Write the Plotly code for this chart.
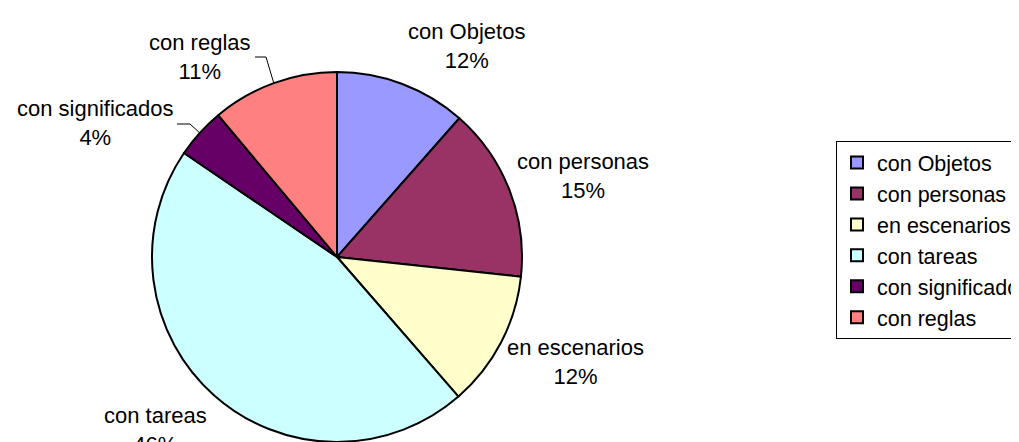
import math
import plotly.graph_objects as go

categories = ["con Objetos", "con personas", "en escenarios", "con tareas", "con significados", "con reglas"]
values = [11.5, 15.2, 11.9, 45.9, 4.4, 11.1]
colors = ["#9999FF", "#993366", "#FFFFCC", "#CCFFFF", "#660066", "#FF8080"]

# layout: figure size, pie geometry (pixels from top-left)
W, H = 1019, 442
cx, cy, r = 329, 249, 185
FONT = "Liberation Sans, Arial, sans-serif"

# label text centres (pixels, first-line/second-line midpoint) and leader flags
label_pos = [(458, 38), (575, 168), (567, 354), (147, 422), (87, 115), (192, 49)]
leader = [False, False, False, False, True, True]
leader_start = {4: (169, 116), 5: (247, 49)}   # start of the small elbow line, next to the text

fig = go.Figure(go.Pie(
    labels=categories,
    values=values,
    sort=False,
    direction="clockwise",
    rotation=0,
    marker=dict(colors=colors, line=dict(color="black", width=2)),
    textinfo="none",
    domain=dict(x=[(cx - r) / W, (cx + r) / W], y=[(H - cy - r) / H, (H - cy + r) / H]),
    hoverinfo="label+percent",
))

total = sum(values)
cum = 0.0
annotations = []
shapes = []
for i, (lab, v) in enumerate(zip(categories, values)):
    mid = (cum + v / 2) / total * 2 * math.pi
    cum += v
    px, py = label_pos[i]
    annotations.append(dict(
        x=px / W, y=1 - py / H, xref="paper", yref="paper",
        text=f"{lab}<br>{round(v / total * 100)}%",
        showarrow=False, xanchor="center", yanchor="middle",
        font=dict(family=FONT, size=22, color="black"),
    ))
    if leader[i]:
        ex, ey = cx + r * math.sin(mid), cy - r * math.cos(mid)
        sx, sy = leader_start[i]
        kx = sx + 11 if i == 5 else sx + 13
        path = f"M {sx/W},{1-sy/H} L {kx/W},{1-sy/H} L {ex/W},{1-ey/H}"
        shapes.append(dict(type="path", xref="paper", yref="paper", path=path,
                           line=dict(color="black", width=1)))

fig.update_layout(
    width=W, height=H,
    margin=dict(l=0, r=0, t=0, b=0, autoexpand=False),
    paper_bgcolor="white",
    plot_bgcolor="white",
    font=dict(family=FONT, size=22, color="black"),
    annotations=annotations,
    shapes=shapes,
    legend=dict(
        x=828 / W, xanchor="left", y=1 - 133 / H, yanchor="top",
        bordercolor="black", borderwidth=1,
        font=dict(family=FONT, size=21.5, color="black"),
        itemwidth=30,
    ),
    showlegend=True,
)

fig.write_html("out.html")
